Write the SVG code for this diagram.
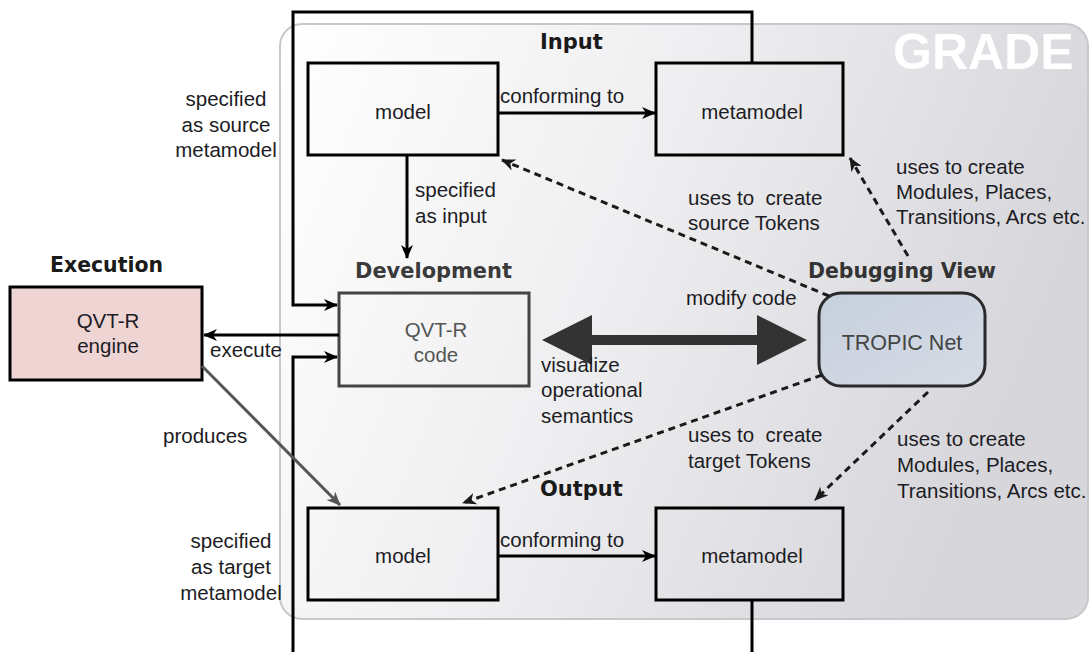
<svg xmlns="http://www.w3.org/2000/svg" width="1092" height="652" viewBox="0 0 1092 652">
<defs>
<linearGradient id="gradeBg" x1="0" y1="0" x2="1" y2="0.3">
<stop offset="0" stop-color="#ffffff"/>
<stop offset="0.45" stop-color="#f0f0f2"/>
<stop offset="1" stop-color="#d6d6db"/>
</linearGradient>
<linearGradient id="tropicBg" x1="0" y1="0" x2="1" y2="1">
<stop offset="0" stop-color="#c6cfdc"/>
<stop offset="1" stop-color="#d6dce6"/>
</linearGradient>
<marker id="ah" viewBox="0 0 14 12" refX="13" refY="6" markerWidth="14" markerHeight="12" markerUnits="userSpaceOnUse" orient="auto">
<path d="M0,0 L14,6 L0,12 L4,6 Z" fill="#000"/>
</marker>
<marker id="ahg" viewBox="0 0 14 12" refX="13" refY="6" markerWidth="14" markerHeight="12" markerUnits="userSpaceOnUse" orient="auto">
<path d="M0,0 L14,6 L0,12 L4,6 Z" fill="#555"/>
</marker>
<marker id="ahd" viewBox="0 0 14 12" refX="13" refY="6" markerWidth="14" markerHeight="12" markerUnits="userSpaceOnUse" orient="auto">
<path d="M0,0 L14,6 L0,12 L4,6 Z" fill="#1a1a1a"/>
</marker>
</defs>
<style>
.lbl{font-family:"Liberation Sans",Arial,sans-serif;font-size:20.5px;fill:#1c1c24}
.mid{text-anchor:middle}
.ttl{font-family:"DejaVu Sans",sans-serif;font-weight:bold;font-size:21px;fill:#1a1a1a}
.box{fill:none;stroke:#000;stroke-width:3}
.ln{fill:none;stroke:#000;stroke-width:3}
.dash{fill:none;stroke:#1a1a1a;stroke-width:3;stroke-dasharray:7 5}
</style>

<g id="grade">
<rect x="280" y="24" width="808" height="595" rx="22" fill="url(#gradeBg)" stroke="#c8c8cc" stroke-width="2"/>
<text x="893" y="69" font-family="Liberation Sans,Arial,sans-serif" font-weight="bold" font-size="50" fill="#ffffff">GRADE</text>
</g>

<g id="input">
<text class="ttl" x="540" y="49">Input</text>
</g>
<g id="input-model">
<rect class="box" x="308" y="63" width="190" height="92"/>
<text class="lbl mid" x="403" y="119">model</text>
</g>
<g id="input-metamodel">
<rect class="box" x="656" y="63" width="187" height="92"/>
<text class="lbl mid" x="752" y="119">metamodel</text>
</g>

<g id="execution">
<text class="ttl" x="50" y="272" textLength="113" lengthAdjust="spacingAndGlyphs">Execution</text>
<rect x="10" y="287" width="192" height="93" fill="#efd4d4" stroke="#000" stroke-width="3"/>
<text class="lbl mid" x="108" y="328">QVT-R</text>
<text class="lbl mid" x="108" y="353">engine</text>
</g>

<g id="development">
<text class="ttl" x="355" y="278" fill="#444" style="fill:#3a3a3a" textLength="157" lengthAdjust="spacingAndGlyphs">Development</text>
<rect x="339" y="293" width="190" height="93" fill="none" stroke="#444" stroke-width="3"/>
<text class="lbl mid" x="436" y="337" style="fill:#555">QVT-R</text>
<text class="lbl mid" x="436" y="362" style="fill:#555">code</text>
</g>

<g id="debugging">
<text class="ttl" x="808" y="278" style="fill:#333" textLength="188" lengthAdjust="spacingAndGlyphs">Debugging View</text>
<rect x="819" y="293" width="166" height="93" rx="22" fill="url(#tropicBg)" stroke="#2a2a2a" stroke-width="3"/>
<text class="lbl mid" x="902" y="350" style="fill:#444;font-size:21.5px">TROPIC Net</text>
</g>

<g id="output">
<text class="ttl" x="540" y="496">Output</text>
</g>
<g id="output-model">
<rect class="box" x="308" y="508" width="190" height="92"/>
<text class="lbl mid" x="403" y="563">model</text>
</g>
<g id="output-metamodel">
<rect class="box" x="656" y="508" width="187" height="92"/>
<text class="lbl mid" x="752" y="563">metamodel</text>
</g>

<g id="connectors">
<path class="ln" d="M498,113 H655" marker-end="url(#ah)"/>
<path class="ln" d="M498,556 H655" marker-end="url(#ah)"/>
<path class="ln" d="M407,155 V258" marker-end="url(#ah)"/>
<path class="ln" d="M752,63 V12 H293 V305 H337" marker-end="url(#ah)"/>
<path class="ln" d="M752,600 V670 H293 V357 H337" marker-end="url(#ah)"/>
<path class="ln" d="M339,335 H204" marker-end="url(#ah)"/>
<path d="M202,366 L340,505" fill="none" stroke="#555" stroke-width="3" marker-end="url(#ahg)"/>
<polygon points="542,340 592,315 592,335 757,335 757,315 807,340 757,365 757,345 592,345 592,365" fill="#333"/>
<path class="dash" d="M829,296 L502,160" marker-end="url(#ahd)"/>
<path class="dash" d="M908,256 L850,158" marker-end="url(#ahd)"/>
<path class="dash" d="M822,375 L463,503" marker-end="url(#ahd)"/>
<path class="dash" d="M928,392 L815,500" marker-end="url(#ahd)"/>
</g>

<g id="labels">
<text class="lbl" x="500" y="103">conforming to</text>
<text class="lbl" x="500" y="547">conforming to</text>
<text class="lbl" x="415" y="197">specified</text>
<text class="lbl" x="415" y="223">as input</text>
<text class="lbl mid" x="226" y="106">specified</text>
<text class="lbl mid" x="226" y="132">as source</text>
<text class="lbl mid" x="226" y="157">metamodel</text>
<text class="lbl mid" x="231" y="548">specified</text>
<text class="lbl mid" x="231" y="574">as target</text>
<text class="lbl mid" x="231" y="600">metamodel</text>
<text class="lbl" x="210" y="357">execute</text>
<text class="lbl" x="163" y="443">produces</text>
<text class="lbl" x="686" y="305">modify code</text>
<text class="lbl" x="541" y="372">visualize</text>
<text class="lbl" x="541" y="397">operational</text>
<text class="lbl" x="541" y="423">semantics</text>
<text class="lbl" x="688" y="205" xml:space="preserve">uses to  create</text>
<text class="lbl" x="688" y="230">source Tokens</text>
<text class="lbl" x="688" y="442" xml:space="preserve">uses to  create</text>
<text class="lbl" x="688" y="468">target Tokens</text>
<text class="lbl" x="896" y="174">uses to create</text>
<text class="lbl" x="896" y="199">Modules, Places,</text>
<text class="lbl" x="896" y="224">Transitions, Arcs etc.</text>
<text class="lbl" x="897" y="446">uses to create</text>
<text class="lbl" x="897" y="472">Modules, Places,</text>
<text class="lbl" x="897" y="498">Transitions, Arcs etc.</text>
</g>
</svg>
